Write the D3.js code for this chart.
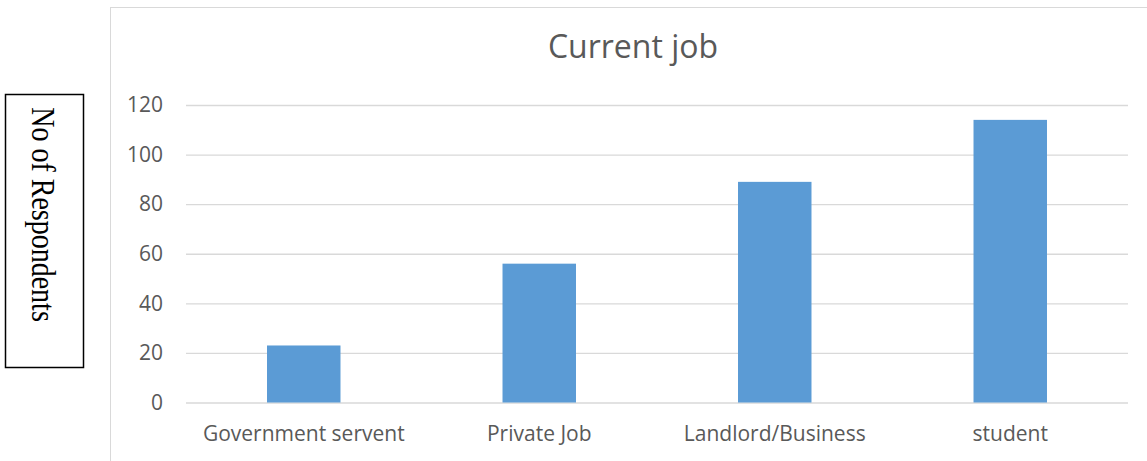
<!DOCTYPE html>
<html>
<head>
<meta charset="utf-8">
<script src="https://cdn.jsdelivr.net/npm/d3@7"></script>
<style>
  body { margin: 0; background: #fff; }
  svg { display: block; }
</style>
</head>
<body>
<div id="chart"></div>
<script>
// data
const categories = ["Government servent", "Private Job", "Landlord/Business", "student"];
const respondents = [23, 56, 89, 114];
const yTicks = [0, 20, 40, 60, 80, 100, 120];
const chartTitle = "Current job";
const yLabel = "No of Respondents";

const W = 1147, H = 461;
const plot = {left: 186, right: 1128, top: 105, bottom: 402.5};

const svg = d3.select("#chart")
  .append("svg")
  .attr("width", W)
  .attr("height", H);

// chart frame
svg.append("rect")
  .attr("x", 110.5).attr("y", 7.5)
  .attr("width", 1060).attr("height", 470)
  .style("fill", "none")
  .style("stroke", "#d9d9d9")
  .style("stroke-width", 1);

// scales
const x = d3.scaleBand()
  .domain(categories)
  .range([plot.left, plot.right])
  .paddingInner(0.688)
  .paddingOuter(0.344);

const y = d3.scaleLinear()
  .domain([0, 120])
  .range([plot.bottom, plot.top]);

// gridlines + y labels
const yAxis = svg.append("g")
  .attr("transform", "translate(" + plot.left + ",0)")
  .call(d3.axisLeft(y).tickValues(yTicks).tickSize(-(plot.right - plot.left)).tickPadding(23));
yAxis.select(".domain").remove();
yAxis.selectAll(".tick line").style("stroke", "#d9d9d9").style("stroke-width", 1.3);
yAxis.selectAll(".tick text")
  .style("font-family", "'Open Sans', sans-serif")
  .style("font-size", "21px")
  .style("fill", "#595959");

// bars
svg.selectAll(".bar")
  .data(respondents)
  .enter()
  .append("rect")
  .attr("class", "bar")
  .attr("x", (d, i) => x(categories[i]))
  .attr("width", x.bandwidth())
  .attr("y", d => y(d))
  .attr("height", d => y(0) - y(d))
  .style("fill", "#5b9bd5");

// x labels
const xAxis = svg.append("g")
  .attr("transform", "translate(0," + plot.bottom + ")")
  .call(d3.axisBottom(x).tickSize(0).tickPadding(24));
xAxis.select(".domain").remove();
xAxis.selectAll(".tick text")
  .style("font-family", "'Open Sans', sans-serif")
  .style("font-size", "21px")
  .style("fill", "#595959");

// title
svg.append("text")
  .attr("x", 633)
  .attr("y", 58)
  .attr("text-anchor", "middle")
  .style("font-family", "'Open Sans', sans-serif")
  .style("font-size", "32px")
  .style("fill", "#595959")
  .text(chartTitle);

// y label box
svg.append("rect")
  .attr("x", 5.5).attr("y", 94.5)
  .attr("width", 78).attr("height", 273)
  .style("fill", "#fff")
  .style("stroke", "#000")
  .style("stroke-width", 1.5);

svg.append("text")
  .attr("transform", "translate(32,214.5) rotate(90) scale(1,1.22)")
  .attr("text-anchor", "middle")
  .style("font-family", "'Liberation Serif', serif")
  .style("font-size", "28px")
  .style("fill", "#000")
  .text(yLabel);
</script>
</body>
</html>
